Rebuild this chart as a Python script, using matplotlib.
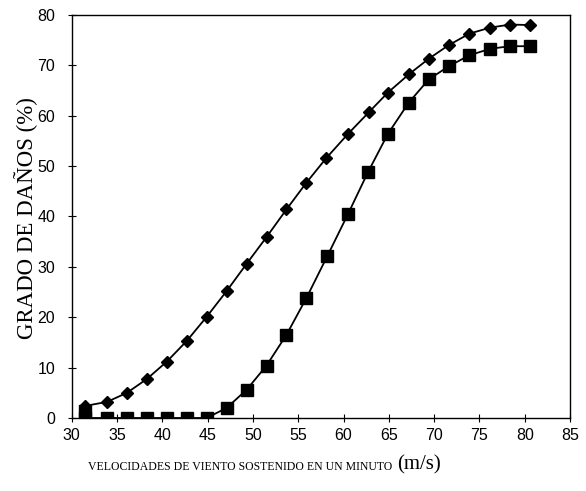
import matplotlib
matplotlib.use("Agg")
import matplotlib.pyplot as plt

# wind speed (m/s)
x_diamond = [31.5, 33.9, 36.1, 38.3, 40.5, 42.7, 44.9, 47.1, 49.3, 51.5, 53.7, 55.9,
             58.1, 60.5, 62.8, 64.9, 67.2, 69.4, 71.6, 73.9, 76.2, 78.4, 80.6]
y_diamond = [2.4, 3.2, 5.0, 7.75, 11.2, 15.3, 20.1, 25.2, 30.6, 35.9, 41.4, 46.7,
             51.6, 56.4, 60.7, 64.6, 68.2, 71.3, 74.0, 76.3, 77.5, 78.1, 78.0]

x_square = [31.5, 31.5, 33.9, 36.1, 38.3, 40.5, 42.7, 44.9, 47.1, 49.3, 51.5, 53.7,
            55.9, 58.2, 60.5, 62.7, 64.9, 67.2, 69.4, 71.6, 73.9, 76.2, 78.4, 80.6]
y_square = [1.3, 0.0, 0.0, 0.0, 0.0, 0.0, 0.0, 0.0, 2.0, 5.6, 10.4, 16.5,
            23.8, 32.1, 40.5, 48.8, 56.4, 62.6, 67.2, 69.8, 72.0, 73.3, 73.8, 73.8]

x_ticks = [30, 35, 40, 45, 50, 55, 60, 65, 70, 75, 80, 85]
y_ticks = [0, 10, 20, 30, 40, 50, 60, 70, 80]

fig = plt.figure(figsize=(5.86, 4.91), dpi=100)
ax = fig.add_axes([0.1224, 0.1487, 0.8503, 0.8208])

ax.plot(x_diamond, y_diamond, color="black", lw=1.3, marker="D", ms=6.5,
        markerfacecolor="black", markeredgecolor="black")
ax.plot(x_square, y_square, color="black", lw=1.3, marker="s", ms=8.5,
        markerfacecolor="black", markeredgecolor="black")

ax.set_xlim(30, 85)
ax.set_ylim(0, 80)
ax.set_xticks(x_ticks)
ax.set_yticks(y_ticks)
ax.tick_params(direction="inout", length=6, width=0.8, labelsize=11.5)
ax.tick_params(axis="x", pad=4)
ax.tick_params(axis="y", pad=9)
for lab in ax.get_xticklabels() + ax.get_yticklabels():
    lab.set_fontfamily("Liberation Sans")
for s in ax.spines.values():
    s.set_linewidth(1.0)

fig.text(0.045, 0.556, "GRADO DE DAÑOS (%)", rotation=90, ha="center", va="center",
         family="Liberation Serif", fontsize=16.5)
fig.text(0.669, 0.043, "VELOCIDADES DE VIENTO SOSTENIDO EN UN MINUTO",
         ha="right", va="baseline", family="Liberation Serif", fontsize=8.5)
fig.text(0.678, 0.043, "(m/s)", ha="left", va="baseline",
         family="Liberation Serif", fontsize=15)

fig.savefig("out.png", dpi=100)
